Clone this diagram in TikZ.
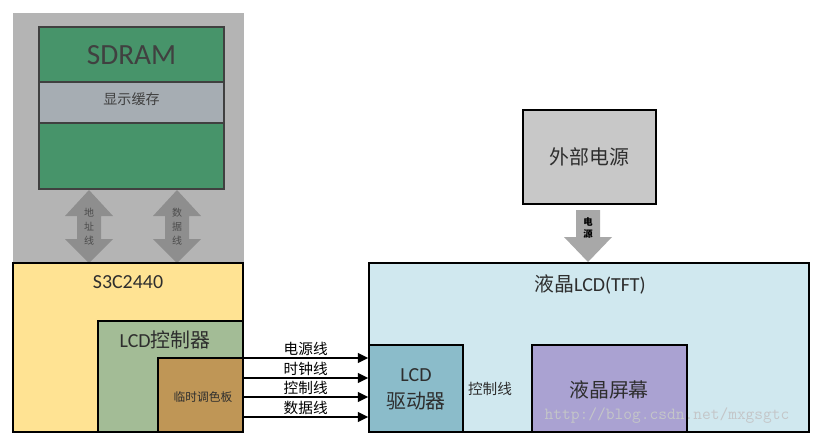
\documentclass[tikz,border=0pt]{standalone}
\usepackage{fontspec}
\setmainfont{Carlito}
\newfontfamily\cjk{Noto Sans CJK SC}
\usetikzlibrary{arrows.meta,fit,calc}

\definecolor{bggray}{HTML}{B4B4B4}
\definecolor{sdgreen}{HTML}{47946A}
\definecolor{bufgray}{HTML}{A6ADB3}
\definecolor{bordergray}{HTML}{404040}
\definecolor{arrowgray}{HTML}{8E8E8E}
\definecolor{pwrgray}{HTML}{A8A8A8}
\definecolor{cpuyellow}{HTML}{FFE393}
\definecolor{ctrlgreen}{HTML}{A3BC96}
\definecolor{palbrown}{HTML}{BF9656}
\definecolor{tftblue}{HTML}{D0E8EF}
\definecolor{drvteal}{HTML}{8BBCCA}
\definecolor{scrpurple}{HTML}{AAA2D2}
\definecolor{extgray}{HTML}{C8C8C8}
\definecolor{txtgray}{HTML}{2E2E2E}
\definecolor{wmgray}{HTML}{C4C6C8}

\begin{document}
\begin{tikzpicture}[x=0.03cm,y=-0.03cm,
    box/.style={draw=black,line width=1pt,inner sep=0pt},
    lbl/.style={inner sep=0pt,text=txtgray},
    big/.style={lbl,font=\fontsize{17}{23}\selectfont},
    small/.style={lbl,font=\cjk\fontsize{12.5}{13}\selectfont},
    sig/.style={-{Triangle[length=9pt,width=8pt]},line width=2.4pt},
    vtext/.style={inner sep=0pt,align=center,text=black!70,font=\cjk\fontsize{8.5}{12}\selectfont}]
    \useasboundingbox[fill=white] (0,0) rectangle (822,443);

    % memory side
    \node[fill=bggray,inner sep=0pt,fit={(13,13) (244,263)}] (mem) {};
    \node[box,draw=bordergray,fill=sdgreen,fit={(39,27) (224,189)}] (sdram) {};
    \node[box,draw=bordergray,fill=bufgray,fit={(39,82) (224,123)}] (buf) {};
    \node[lbl,text=bordergray,font=\fontsize{25}{25}\selectfont] (sdramlbl) at (131.5,55) {SDRAM};
    \node[lbl,text=bordergray,font=\cjk\fontsize{12}{12}\selectfont] (buflbl) at (131.5,99) {显示缓存};

    \foreach \x in {89,177}
        \fill[arrowgray] (\x,190) -- (\x+24,216) -- (\x+12,216) -- (\x+12,239) -- (\x+24,239)
            -- (\x,263) -- (\x-24,239) -- (\x-12,239) -- (\x-12,216) -- (\x-24,216) -- cycle;
    \node[vtext] (addr) at (89,227) {地\\址\\线};
    \node[vtext] (data) at (177,227) {数\\据\\线};

    % S3C2440
    \node[box,fill=cpuyellow,fit={(13,263) (243,432)}] (cpu) {};
    \node[big] (cpulbl) at (128,282) {S3C2440};
    \node[box,fill=ctrlgreen,fit={(98,321) (243,432)}] (ctrl) {};
    \node[big] (ctrllbl) at (165,340) {LCD{\cjk 控制器}};
    \node[box,fill=palbrown,fit={(158,358) (243,432)}] (pal) {};
    \node[lbl,font=\cjk\fontsize{10}{10}\selectfont] (pallbl) at (203,397) {临时调色板};

    % LCD panel
    \node[box,fill=tftblue,fit={(369,263) (809,432)}] (tft) {};
    \node[big] (tftlbl) at (590,284) {{\cjk 液晶}LCD(TFT)};
    \node[box,fill=drvteal,fit={(369,345) (463,432)}] (drv) {};
    \node[big,align=center] (drvlbl) at (416,389) {LCD\\{\cjk 驱动器}};
    \node[small] (ctl2) at (490,389) {控制线};
    \node[box,fill=scrpurple,fit={(532,345) (687,432)}] (scr) {};
    \node[big,font=\cjk\fontsize{17}{17}\selectfont] (scrlbl) at (609,390) {液晶屏幕};
    \node[inner sep=0pt,text=wmgray,font=\ttfamily\fontsize{14.5}{15}\selectfont] (wm) at (667,416) {http://blog.csdn.net/mxgsgtc};

    % external power
    \node[box,fill=extgray,fit={(523,110) (656,204)}] (ext) {};
    \node[big,font=\cjk\fontsize{17}{17}\selectfont] (extlbl) at (ext.center) {外部电源};
    \fill[pwrgray] (576,210) -- (600,210) -- (600,237) -- (612,237) -- (588,262)
        -- (564,237) -- (576,237) -- cycle;
    \node[vtext,text=black,font=\cjk\bfseries\fontsize{8}{10}\selectfont] (pwr) at (588,228) {电\\源};

    % signal lines
    \coordinate (p1) at (243,358);
    \coordinate (p2) at (243,378);
    \coordinate (p3) at (243,397);
    \coordinate (p4) at (243,417);
    \draw[sig] (p1) -- (p1 -| drv.west) node[small,midway,above=0.5pt,text=black] {电源线};
    \draw[sig] (p2) -- (p2 -| drv.west) node[small,midway,above=0.5pt,text=black] {时钟线};
    \draw[sig] (p3) -- (p3 -| drv.west) node[small,midway,above=0.5pt,text=black] {控制线};
    \draw[sig] (p4) -- (p4 -| drv.west) node[small,midway,above=0.5pt,text=black] {数据线};
\end{tikzpicture}
\end{document}
